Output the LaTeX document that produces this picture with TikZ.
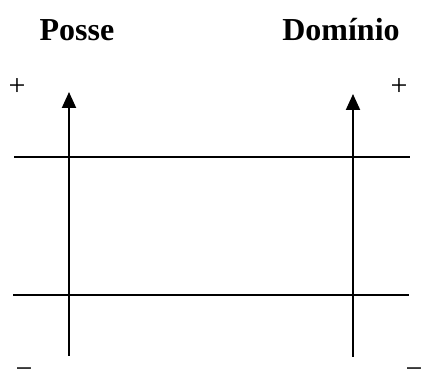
\documentclass[tikz,border=0pt]{standalone}
\usepackage{fontspec}
\setmainfont{Liberation Serif}
\usetikzlibrary{arrows.meta}
\tikzset{
  title/.style={font=\fontsize{32}{35}\selectfont\bfseries, inner sep=0pt, anchor=base},
  sign/.style={font=\fontsize{30}{32}\selectfont, inner sep=0pt},
  axis/.style={line width=2pt, -{Triangle[width=14pt,length=16pt]}},
  hline/.style={line width=2pt}
}
\begin{document}
\begin{tikzpicture}[x=1pt,y=-1pt]
\useasboundingbox (0,0) rectangle (421,374);
\node[title] (posse) at (77,41) {Posse};
\node[title] (dominio) at (341,41) {Domínio};
\node[sign] (pl) at (17,87) {+};
\node[sign] (pr) at (399,87) {+};
\node[sign] (ml) at (24,373) {\char"2212};
\node[sign] (mr) at (414,373) {\char"2212};
\coordinate (lb) at (69,356);
\coordinate (lt) at (69,92);
\coordinate (rb) at (353,357);
\coordinate (rt) at (353,94);
\coordinate (h1a) at (14,157);
\coordinate (h1b) at (410,157);
\coordinate (h2a) at (13,295);
\coordinate (h2b) at (409,295);
\draw[axis] (lb) -- (lt);
\draw[axis] (rb) -- (rt);
\draw[hline] (h1a) -- (h1b);
\draw[hline] (h2a) -- (h2b);
\end{tikzpicture}
\end{document}
